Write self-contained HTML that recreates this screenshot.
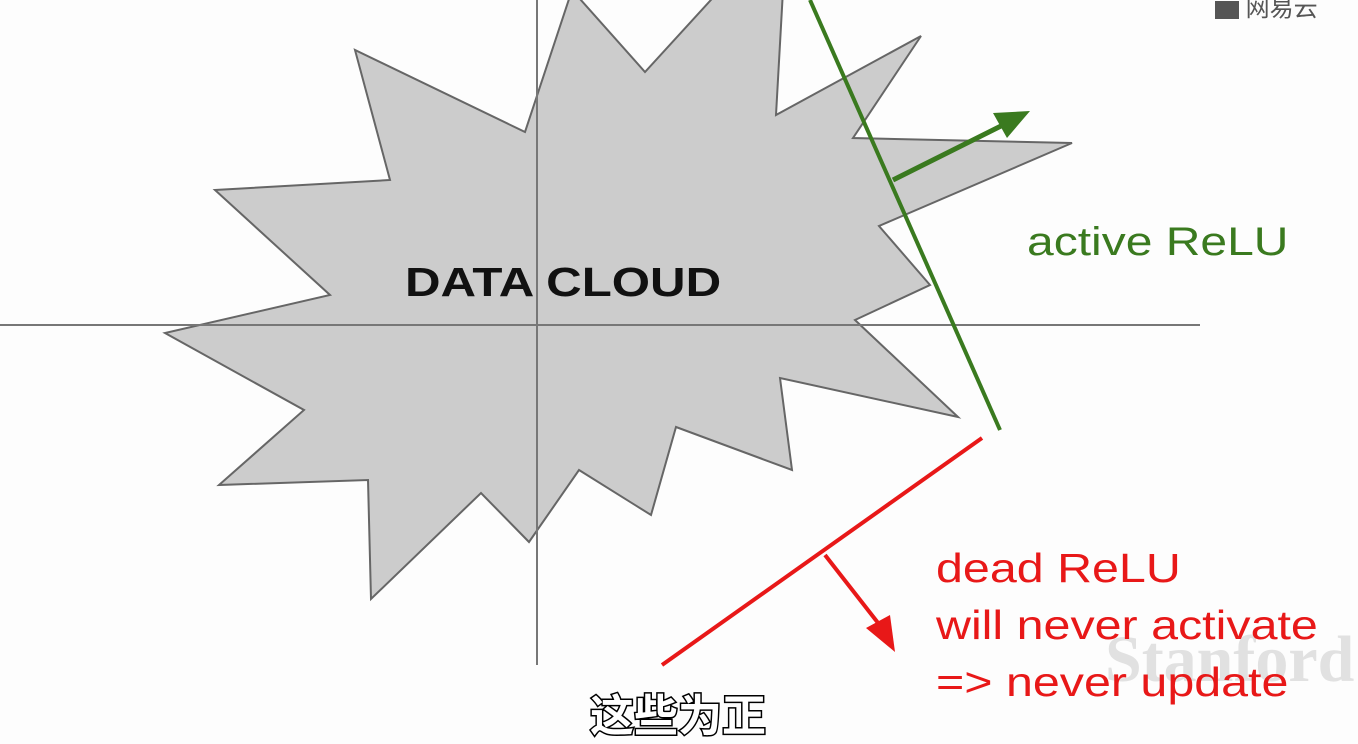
<!DOCTYPE html>
<html><head><meta charset="utf-8"><style>
html,body{margin:0;padding:0;background:#fdfdfd;}
body{width:1358px;height:705px;overflow:hidden;position:relative;}
.t{position:absolute;transform-origin:0 0;white-space:nowrap;}
</style></head><body>
<svg width="1358" height="705" xmlns="http://www.w3.org/2000/svg" style="position:absolute;left:0;top:0">
<polygon points="525,132 355,50 390,180 215,190 330,295 165,333 304,410 219,485 368,480 371,599 481,493 529,542 579,470 651,515 676,427 792,470 780,378 958,417 855,320 930,285 879,226 1072,143 853,138 921,36 776,115 783,-10 720,-10 645,72 572,-10" fill="#cccccc" stroke="#666" stroke-width="2"/>
<line x1="0" y1="325" x2="1200" y2="325" stroke="#777" stroke-width="2"/>
<line x1="537" y1="0" x2="537" y2="665" stroke="#777" stroke-width="2"/>
<line x1="810" y1="0" x2="1000" y2="430" stroke="#3a7a1f" stroke-width="4"/>
<line x1="893" y1="180" x2="1005" y2="124" stroke="#3a7a1f" stroke-width="5"/>
<polygon points="1030,111 993,113 1007,138" fill="#3a7a1f"/>
<line x1="982" y1="438" x2="662" y2="665" stroke="#e81818" stroke-width="4"/>
<line x1="825" y1="555" x2="882" y2="628" stroke="#e81818" stroke-width="4"/>
<polygon points="895,652 866,628 890,615" fill="#e81818"/>
</svg>
<div class="t" style="left:405px;top:259px;font:bold 41px 'Liberation Sans',sans-serif;color:#111;transform:scaleX(1.2)">DATA CLOUD</div>
<div class="t" style="left:1027px;top:220px;font:40px 'Liberation Sans',sans-serif;color:#3a7a1f;transform:scaleX(1.2)">active ReLU</div>
<div class="t" style="left:1105px;top:622px;font:bold 66px 'Liberation Serif',serif;color:rgba(190,190,190,0.45)">Stanford</div>
<div class="t" style="left:936px;top:540px;font:41px/57px 'Liberation Sans',sans-serif;color:#e81818;transform:scaleX(1.18)">dead ReLU<br>will never activate<br>=&gt; never update</div>
<div class="t" style="left:590px;top:680px;font:bold 44px 'Liberation Sans','Noto Sans CJK SC',sans-serif;color:#fff;-webkit-text-stroke:3px #000;paint-order:stroke">这些为正</div>
<div class="t" style="left:1215px;top:-12px;font:24px 'Liberation Sans','Noto Sans CJK SC',sans-serif;color:#555">▆ 网易云</div>
</body></html>
